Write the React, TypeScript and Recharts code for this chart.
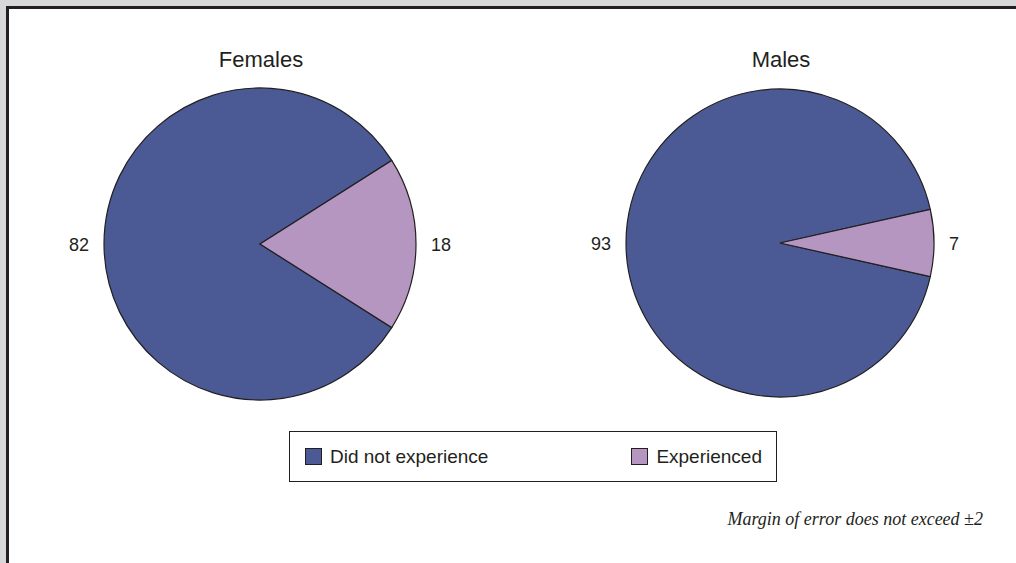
import React from "react";
import { PieChart, Pie, Cell, Legend } from "recharts";

const categories = ["Did not experience", "Experienced"];
const groups = ["Females", "Males"];
const femaleValues = [82, 18];
const maleValues = [93, 7];
const colors = ["#4b5a94", "#b596c1"];

const femaleData = categories.map((name, i) => ({ name, value: femaleValues[i] }));
const maleData = categories.map((name, i) => ({ name, value: maleValues[i] }));

const RAD = Math.PI / 180;
const STROKE = "#231f20";
const SANS = "'Liberation Sans', Arial, Helvetica, sans-serif";

const renderLabel = (props: any) => {
  const { cx, cy, midAngle, outerRadius, value } = props;
  const cos = Math.cos(-midAngle * RAD);
  const sin = Math.sin(-midAngle * RAD);
  const r = outerRadius + 15;
  const x = cx + r * cos;
  const y = cy + r * sin;
  return (
    <text
      x={x}
      y={y + 1}
      textAnchor={cos >= 0 ? "start" : "end"}
      dominantBaseline="central"
      fontFamily={SANS}
      fontSize={18}
      fill="#231f20"
    >
      {value}
    </text>
  );
};

const LegendBox = (props: any) => {
  const seen = new Set<string>();
  const items = (props.payload || []).filter((p: any) => {
    if (seen.has(p.value)) return false;
    seen.add(p.value);
    return true;
  });
  return (
    <div
      style={{
        width: 488,
        height: 51,
        boxSizing: "border-box",
        border: `1.5px solid ${STROKE}`,
        background: "#fff",
        display: "flex",
        alignItems: "center",
        justifyContent: "space-between",
        padding: "0 14px 0 15px",
        fontFamily: SANS,
        fontSize: 19,
        color: "#231f20",
      }}
    >
      {items.map((p: any) => (
        <div key={p.value} style={{ display: "flex", alignItems: "center" }}>
          <span
            style={{
              display: "inline-block",
              width: 17,
              height: 17,
              boxSizing: "border-box",
              background: p.color,
              border: `1px solid ${STROKE}`,
              marginRight: 8,
            }}
          />
          <span style={{ lineHeight: 1 }}>{p.value}</span>
        </div>
      ))}
    </div>
  );
};

export default function App() {
  return (
    <div
      style={{
        position: "absolute",
        left: 0,
        top: 0,
        width: 1016,
        height: 563,
        background: "#d6d7d8",
        overflow: "hidden",
      }}
    >
      <div
        style={{
          position: "absolute",
          left: 6,
          top: 6,
          width: 1010,
          height: 557,
          boxSizing: "border-box",
          borderLeft: `3px solid ${STROKE}`,
          borderTop: `3px solid ${STROKE}`,
          background: "#ffffff",
        }}
      />
      {groups.map((g, i) => (
        <div
          key={g}
          style={{
            position: "absolute",
            left: i === 0 ? 161 : 681,
            width: 200,
            top: 49,
            textAlign: "center",
            fontFamily: SANS,
            fontSize: 22,
            lineHeight: 1,
            color: "#231f20",
          }}
        >
          {g}
        </div>
      ))}
      <div style={{ position: "absolute", left: 0, top: 0 }}>
        <PieChart width={1016} height={563} margin={{ top: 0, right: 0, bottom: 0, left: 0 }}>
          <Pie
            data={femaleData}
            dataKey="value"
            nameKey="name"
            cx={260}
            cy={244}
            outerRadius={156}
            startAngle={(femaleValues[1] * 3.6) / 2}
            endAngle={(femaleValues[1] * 3.6) / 2 + 360}
            stroke={STROKE}
            strokeWidth={1.2}
            label={renderLabel}
            labelLine={false}
            isAnimationActive={false}
          >
            {femaleData.map((d, i) => (
              <Cell key={d.name} fill={colors[i]} />
            ))}
          </Pie>
          <Pie
            data={maleData}
            dataKey="value"
            nameKey="name"
            cx={780}
            cy={243}
            outerRadius={154}
            startAngle={(maleValues[1] * 3.6) / 2}
            endAngle={(maleValues[1] * 3.6) / 2 + 360}
            stroke={STROKE}
            strokeWidth={1.2}
            label={renderLabel}
            labelLine={false}
            isAnimationActive={false}
          >
            {maleData.map((d, i) => (
              <Cell key={d.name} fill={colors[i]} />
            ))}
          </Pie>
          <Legend
            content={<LegendBox />}
            wrapperStyle={{ position: "absolute", left: 289, top: 431, width: 488, height: 51 }}
          />
        </PieChart>
      </div>
      <div
        style={{
          position: "absolute",
          right: 33,
          top: 510,
          fontFamily: "'Liberation Serif', 'Times New Roman', serif",
          fontStyle: "italic",
          fontSize: 18,
          lineHeight: 1,
          color: "#231f20",
          whiteSpace: "nowrap",
        }}
      >
        Margin of error does not exceed ±2
      </div>
    </div>
  );
}
